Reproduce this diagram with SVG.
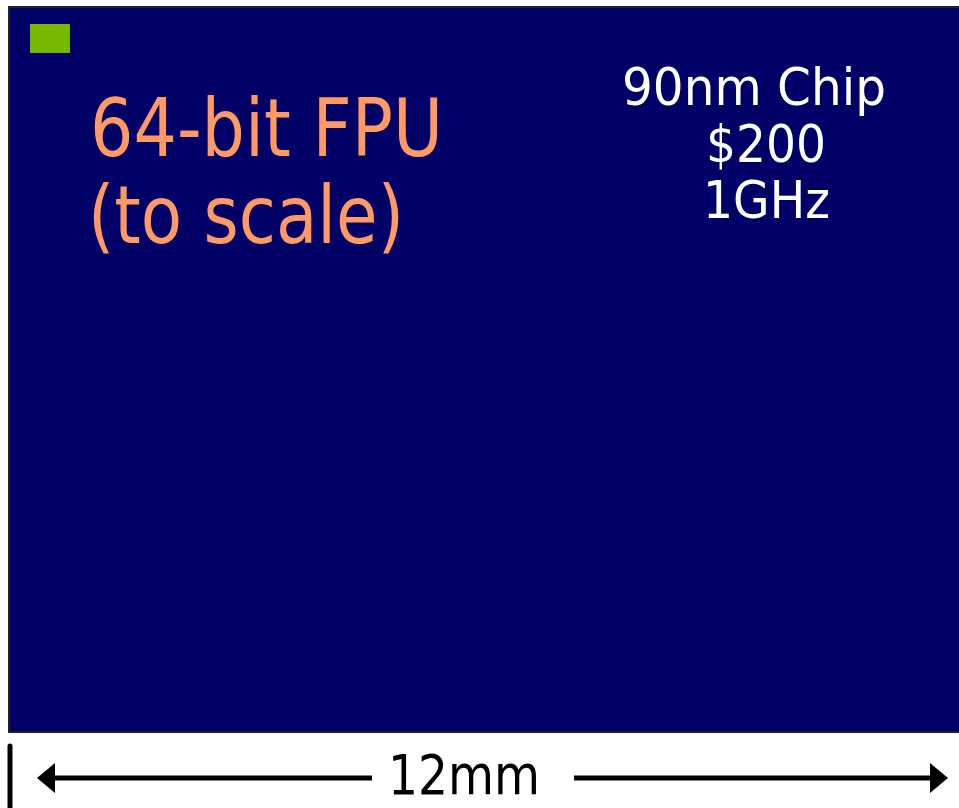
<svg xmlns="http://www.w3.org/2000/svg" width="959" height="808" viewBox="0 0 959 808">
<style>
.t{font-family:"DejaVu Sans Condensed","DejaVu Sans",sans-serif}
.org{fill:#FF9966;font-size:80px}
.wht{fill:#FFFFFF;font-size:51px}
.blk{fill:#000000;font-size:56px}
</style>
<defs>
<marker id="ah" viewBox="0 0 18 30" refX="0" refY="15" markerUnits="userSpaceOnUse" markerWidth="18" markerHeight="30" orient="auto">
<path d="M0,0 L18,15 L0,30 Z" fill="#000"/>
</marker>
</defs>
<rect width="959" height="808" fill="#FFFFFF"/>
<g id="chip">
<rect x="9" y="7" width="960" height="725" fill="#000066" stroke="#222222" stroke-width="2"/>
</g>
<g id="fpu">
<rect x="30" y="24" width="40" height="29" fill="#76B900"/>
</g>
<g id="fpu-label" class="t">
<text class="org" x="90" y="156" textLength="353" lengthAdjust="spacingAndGlyphs">64-bit FPU</text>
<text class="org" x="88" y="243" textLength="316" lengthAdjust="spacingAndGlyphs">(to scale)</text>
</g>
<g id="chip-label" class="t">
<text class="wht" x="622" y="105" textLength="264" lengthAdjust="spacingAndGlyphs">90nm Chip</text>
<text class="wht" x="706" y="162" textLength="120" lengthAdjust="spacingAndGlyphs">$200</text>
<text class="wht" x="703" y="218" textLength="127" lengthAdjust="spacingAndGlyphs">1GHz</text>
</g>
<g id="connectors">
<line x1="10" y1="746" x2="10" y2="808" stroke="#000" stroke-width="5" stroke-linecap="round"/>
<line x1="372" y1="778" x2="55" y2="778" stroke="#000" stroke-width="5" marker-end="url(#ah)"/>
<line x1="574" y1="778" x2="930" y2="778" stroke="#000" stroke-width="5" marker-end="url(#ah)"/>
</g>
<g id="scale-label" class="t">
<text class="blk" x="388" y="794" textLength="152" lengthAdjust="spacingAndGlyphs">12mm</text>
</g>
</svg>
